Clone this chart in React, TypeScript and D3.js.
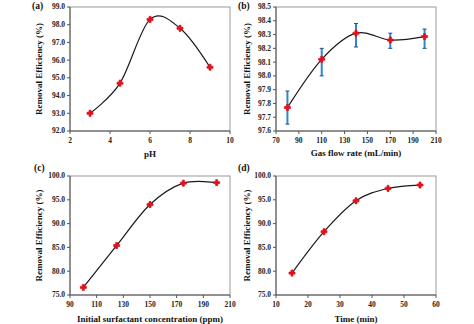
import React from "react";
import * as d3 from "d3";

// Panel (a): pH
const phX = [3, 4.5, 6, 7.5, 9];
const phY = [93.0, 94.7, 98.3, 97.8, 95.6];
const phXTicks = [2, 4, 6, 8, 10];
const phYTicks = [92, 93, 94, 95, 96, 97, 98, 99];

// Panel (b): gas flow rate
const gasX = [80, 110, 140, 170, 200];
const gasY = [97.77, 98.12, 98.31, 98.26, 98.285];
const gasLo = [97.65, 98.0, 98.21, 98.2, 98.2];
const gasHi = [97.89, 98.2, 98.38, 98.31, 98.34];
const gasXTicks = [70, 90, 110, 130, 150, 170, 190, 210];
const gasYTicks = [97.6, 97.7, 97.8, 97.9, 98.0, 98.1, 98.2, 98.3, 98.4, 98.5];

// Panel (c): initial surfactant concentration
const concX = [100, 125, 150, 175, 200];
const concY = [76.6, 85.4, 94.0, 98.5, 98.6];
const concXTicks = [90, 110, 130, 150, 170, 190, 210];
const concYTicks = [75, 80, 85, 90, 95, 100];

// Panel (d): time
const timeX = [15, 25, 35, 45, 55];
const timeY = [79.6, 88.3, 94.8, 97.4, 98.1];
const timeXTicks = [10, 20, 30, 40, 50, 60];
const timeYTicks = [75, 80, 85, 90, 95, 100];

const FONT = "'Liberation Serif', 'Times New Roman', serif";

type PanelProps = {
  tag: string;
  xs: number[];
  ys: number[];
  lo?: number[];
  hi?: number[];
  xTicks: number[];
  yTicks: number[];
  yFmt: (v: number) => string;
  xLabel: string;
  left: number;
  top: number;
  width: number;
  height: number;
  tagX: number;
  tagY: number;
  yTitleX: number;
  xTitleY: number;
};

function Panel(p: PanelProps) {
  const x = d3
    .scaleLinear()
    .domain([p.xTicks[0], p.xTicks[p.xTicks.length - 1]])
    .range([p.left, p.left + p.width]);
  const y = d3
    .scaleLinear()
    .domain([p.yTicks[0], p.yTicks[p.yTicks.length - 1]])
    .range([p.top + p.height, p.top]);
  const pts: [number, number][] = p.xs.map((v, i) => [x(v), y(p.ys[i])]);
  const line = d3.line().curve(d3.curveCatmullRom.alpha(0))(pts) || "";
  const sym = d3.symbol().type(d3.symbolCross).size(20)() || "";
  const bottom = p.top + p.height;
  return (
    <g>
      <rect x={p.left} y={p.top} width={p.width} height={p.height} fill="none" stroke="#9a9a9a" strokeWidth={1} />
      <line x1={p.left} x2={p.left} y1={p.top} y2={bottom} stroke="#555" strokeWidth={1} />
      <line x1={p.left} x2={p.left + p.width} y1={bottom} y2={bottom} stroke="#555" strokeWidth={1} />
      {p.yTicks.map((t) => (
        <g key={"y" + t}>
          <line x1={p.left - 3} x2={p.left} y1={y(t)} y2={y(t)} stroke="#555" />
          <text x={p.left - 5} y={y(t)} dy="0.33em" textAnchor="end" fontSize={7.5} fontWeight="bold" fill="#222" fontFamily={FONT}>
            {p.yFmt(t)}
          </text>
        </g>
      ))}
      {p.xTicks.map((t) => (
        <g key={"x" + t}>
          <line x1={x(t)} x2={x(t)} y1={bottom} y2={bottom + 3} stroke="#555" />
          <text x={x(t)} y={bottom + 12} textAnchor="middle" fontSize={7.5} fontWeight="bold" fill="#222" fontFamily={FONT}>
            {t}
          </text>
        </g>
      ))}
      <path d={line} fill="none" stroke="#1a1a1a" strokeWidth={1.2} />
      {p.lo &&
        p.hi &&
        p.xs.map((v, i) => (
          <g key={"e" + i}>
            <line x1={x(v)} x2={x(v)} y1={y(p.lo![i])} y2={y(p.hi![i])} stroke="#2e86d0" strokeWidth={2} />
            <line x1={x(v) - 2} x2={x(v) + 2} y1={y(p.lo![i])} y2={y(p.lo![i])} stroke="#1f4e79" strokeWidth={1} />
            <line x1={x(v) - 2} x2={x(v) + 2} y1={y(p.hi![i])} y2={y(p.hi![i])} stroke="#1f4e79" strokeWidth={1} />
          </g>
        ))}
      {pts.map((pt, i) => (
        <path key={"m" + i} d={sym} transform={`translate(${pt[0]},${pt[1]})`} fill="#e3101c" stroke="#e3101c" strokeWidth={0.8} strokeLinejoin="round" />
      ))}
      <text x={p.tagX} y={p.tagY} fontSize={9.5} fontWeight="bold" fill="#111" fontFamily={FONT}>
        {p.tag}
      </text>
      <text
        transform={`translate(${p.yTitleX},${p.top + p.height / 2}) rotate(-90)`}
        textAnchor="middle"
        dy="0.33em"
        fontSize={9}
        fontWeight="bold"
        fill="#111"
        fontFamily={FONT}
      >
        Removal Efficiency (%)
      </text>
      <text x={p.left + p.width / 2} y={p.xTitleY} dy="0.33em" textAnchor="middle" fontSize={9} fontWeight="bold" fill="#111" fontFamily={FONT}>
        {p.xLabel}
      </text>
    </g>
  );
}

export default function App() {
  const f1 = (v: number) => v.toFixed(1);
  return (
    <svg width={474} height={324} style={{ position: "absolute", left: 0, top: 0, background: "#fff" }}>
      <Panel tag="(a)" xs={phX} ys={phY} xTicks={phXTicks} yTicks={phYTicks} yFmt={f1} xLabel="pH"
        left={70} top={7} width={160} height={124} tagX={32} tagY={9} yTitleX={39} xTitleY={154} />
      <Panel tag="(b)" xs={gasX} ys={gasY} lo={gasLo} hi={gasHi} xTicks={gasXTicks} yTicks={gasYTicks} yFmt={f1}
        xLabel="Gas flow rate (mL/min)" left={276} top={7} width={160} height={124} tagX={238} tagY={9} yTitleX={247} xTitleY={153} />
      <Panel tag="(c)" xs={concX} ys={concY} xTicks={concXTicks} yTicks={concYTicks} yFmt={f1}
        xLabel="Initial surfactant concentration (ppm)" left={70} top={176} width={160} height={119} tagX={34} tagY={171} yTitleX={39} xTitleY={319} />
      <Panel tag="(d)" xs={timeX} ys={timeY} xTicks={timeXTicks} yTicks={timeYTicks} yFmt={f1}
        xLabel="Time (min)" left={276} top={176} width={160} height={119} tagX={238} tagY={171} yTitleX={247} xTitleY={319} />
    </svg>
  );
}
